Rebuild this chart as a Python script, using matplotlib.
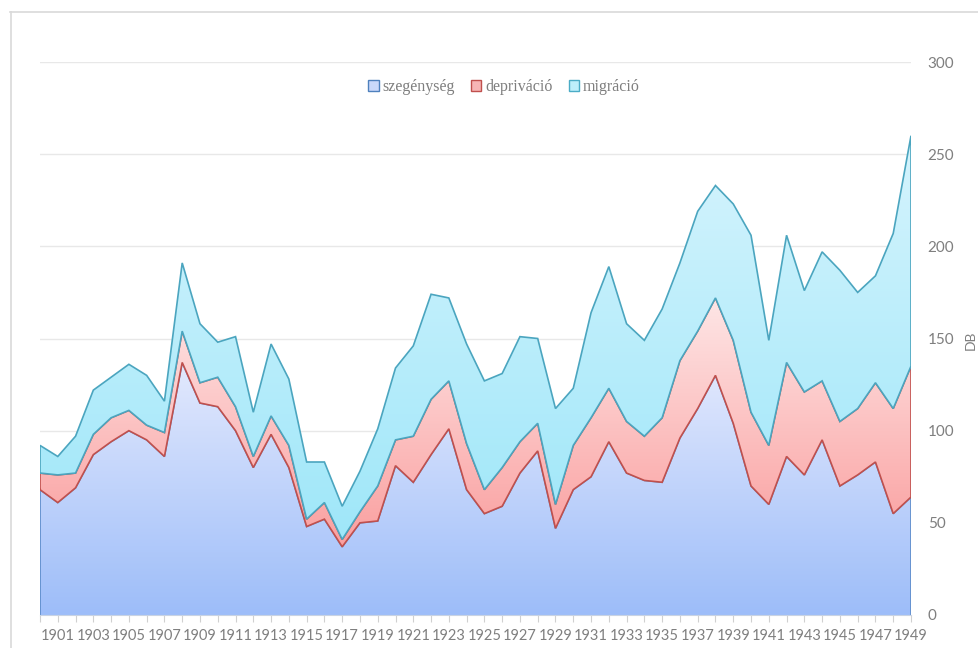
import numpy as np
import matplotlib
matplotlib.use("Agg")
import matplotlib.pyplot as plt
from matplotlib.colors import LinearSegmentedColormap
from matplotlib.patches import Patch
from matplotlib.lines import Line2D

years = np.arange(1900, 1950)

szegenyseg = [68, 61, 69, 87, 94, 100, 95, 86, 137, 115,
              113, 100, 80, 98, 80, 48, 52, 37, 50, 51,
              81, 72, 87, 101, 68, 55, 59, 77, 89, 47,
              68, 75, 94, 77, 73, 72, 96, 112, 130, 104,
              70, 60, 86, 76, 95, 70, 76, 83, 55, 64]
deprivacio = [9, 15, 8, 11, 13, 11, 8, 13, 17, 11,
              16, 13, 6, 10, 12, 4, 9, 4, 6, 19,
              14, 25, 30, 26, 25, 13, 21, 17, 15, 13,
              24, 32, 29, 28, 24, 35, 42, 42, 42, 45,
              40, 32, 51, 45, 32, 35, 36, 43, 57, 71]
migracio = [15, 10, 20, 24, 22, 25, 27, 17, 37, 32,
            19, 38, 24, 39, 36, 31, 22, 18, 22, 31,
            39, 49, 57, 45, 54, 59, 51, 57, 46, 52,
            31, 57, 66, 53, 52, 59, 53, 65, 61, 74,
            96, 57, 69, 55, 70, 82, 63, 58, 95, 125]

labels = ["szegénység", "depriváció", "migráció"]
# (bottom colour, top colour, outline)
styles = [("#9dbdf9", "#e3e9fd", "#5b8bc9"),
          ("#fa9f9f", "#fee6e6", "#c0504d"),
          ("#9fe7f9", "#d6f4fd", "#4ba5bf")]

GRAY = "#7f7f7f"
TICK_FONT = ["Lato", "DejaVu Sans"]

fig = plt.figure(figsize=(9.79, 6.48), dpi=100)
ax = fig.add_axes([40 / 979, 33 / 648, 871 / 979, 553 / 648])


def gradient_area(ax, x, lower, upper, c_bottom, c_top, edge, z):
    poly = ax.fill_between(x, lower, upper, facecolor="none", edgecolor="none")
    cmap = LinearSegmentedColormap.from_list("g", [c_bottom, c_top])
    grad = np.linspace(0, 1, 256).reshape(-1, 1)
    im = ax.imshow(grad, cmap=cmap, aspect="auto", origin="lower",
                   extent=[x[0], x[-1], lower.min(), upper.max()],
                   zorder=z, interpolation="bilinear")
    im.set_clip_path(poly.get_paths()[0], transform=ax.transData)
    # outline: bottom edge, right side, top edge, left side
    ox = np.concatenate([x, x[::-1], x[:1]])
    oy = np.concatenate([lower, upper[::-1], lower[:1]])
    if lower.max() == 0:
        ox = np.concatenate([[x[0]], x, [x[-1]]])
        oy = np.concatenate([[0], upper, [0]])
    ax.plot(ox, oy, color=edge, lw=1.2, zorder=z + 0.5, solid_joinstyle="miter")


base = np.zeros(len(years), dtype=float)
for i, series in enumerate([szegenyseg, deprivacio, migracio]):
    top = base + np.array(series, dtype=float)
    c0, c1, ec = styles[i]
    gradient_area(ax, years, base.copy(), top, c0, c1, ec, 2 + i)
    base = top

ax.set_xlim(1900, 1949)
ax.set_ylim(0, 300)

# axes styling
for s in ["top", "left", "right"]:
    ax.spines[s].set_visible(False)
ax.spines["bottom"].set_color("#c9d3e3")
ax.spines["bottom"].set_zorder(10)

ax.yaxis.tick_right()
ax.yaxis.set_label_position("right")
ax.set_yticks(range(0, 301, 50))
ax.tick_params(axis="y", length=0, pad=12, labelcolor=GRAY, labelsize=11)
ax.set_ylabel("DB", color=GRAY, fontsize=10, family=TICK_FONT)
ax.yaxis.set_label_coords(1.062, 0.497)
ax.grid(axis="y", color="#e8e8e8", lw=1, zorder=0)
ax.set_axisbelow(True)

ax.set_xticks(years)
ax.set_xticklabels([str(y) if y % 2 else "" for y in years])
ax.tick_params(axis="x", length=5, color="#d0d0d0", labelcolor=GRAY,
               labelsize=10.5, pad=5)

for t in ax.get_xticklabels() + ax.get_yticklabels():
    t.set_fontfamily(TICK_FONT)

handles = [Patch(facecolor="#c9d8fa", edgecolor="#4f81bd", lw=1),
           Patch(facecolor="#f7b5b5", edgecolor="#c0504d", lw=1),
           Patch(facecolor="#bdeffb", edgecolor="#4bacc6", lw=1)]
leg = fig.legend(handles, labels, loc="center", ncol=3,
                 bbox_to_anchor=(504 / 979, 1 - 87 / 648), frameon=False,
                 handlelength=0.65, handleheight=0.65, handletextpad=0.25,
                 columnspacing=1.0,
                 prop={"family": "Liberation Serif", "size": 11.5})
for t in leg.get_texts():
    t.set_color(GRAY)

# chart frame
fig.add_artist(Line2D([10.5 / 979, 10.5 / 979], [0, 1 - 12 / 648],
                      color="#d9d9d9", lw=1.2))
fig.add_artist(Line2D([10 / 979, 1], [1 - 12 / 648, 1 - 12 / 648],
                      color="#d9d9d9", lw=1.2))

fig.savefig("out.png", dpi=100, facecolor="white")
